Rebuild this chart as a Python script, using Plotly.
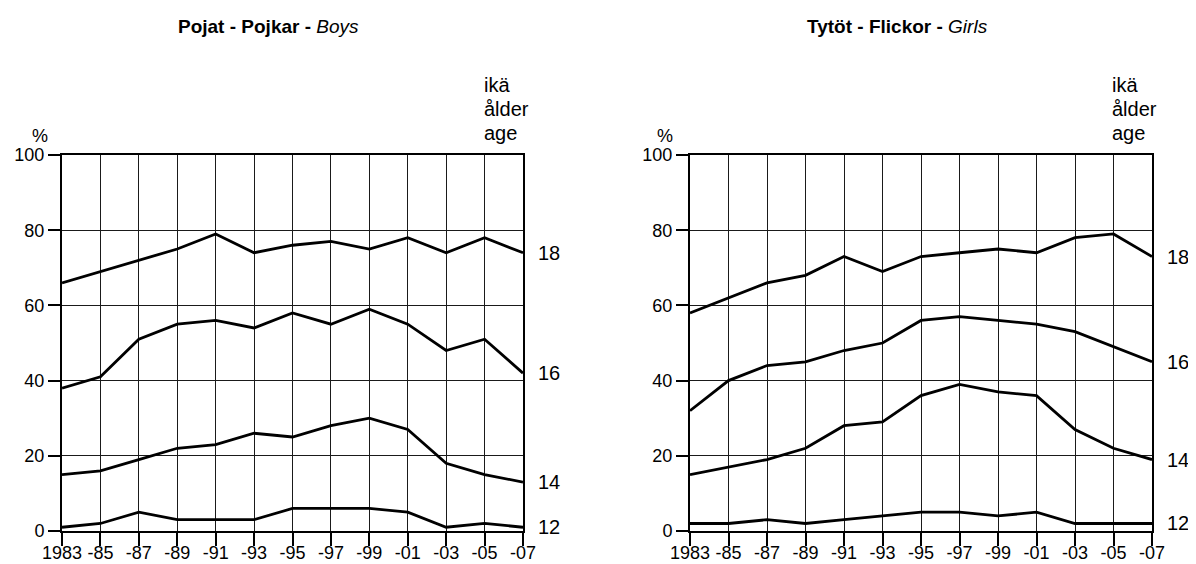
import plotly.graph_objects as go

years = [1983, 1985, 1987, 1989, 1991, 1993, 1995, 1997, 1999, 2001, 2003, 2005, 2007]
year_labels = ["1983", "-85", "-87", "-89", "-91", "-93", "-95", "-97", "-99", "-01", "-03", "-05", "-07"]
ages = ["18", "16", "14", "12"]

boys_18 = [66, 69, 72, 75, 79, 74, 76, 77, 75, 78, 74, 78, 74]
boys_16 = [38, 41, 51, 55, 56, 54, 58, 55, 59, 55, 48, 51, 42]
boys_14 = [15, 16, 19, 22, 23, 26, 25, 28, 30, 27, 18, 15, 13]
boys_12 = [1, 2, 5, 3, 3, 3, 6, 6, 6, 5, 1, 2, 1]

girls_18 = [58, 62, 66, 68, 73, 69, 73, 74, 75, 74, 78, 79, 73]
girls_16 = [32, 40, 44, 45, 48, 50, 56, 57, 56, 55, 53, 49, 45]
girls_14 = [15, 17, 19, 22, 28, 29, 36, 39, 37, 36, 27, 22, 19]
girls_12 = [2, 2, 3, 2, 3, 4, 5, 5, 4, 5, 2, 2, 2]

boys = [boys_18, boys_16, boys_14, boys_12]
girls = [girls_18, girls_16, girls_14, girls_12]

FONT = "Liberation Sans, Arial, Helvetica, sans-serif"
OFF = 8  # page body margin
W, H = 1196 - OFF, 564 - OFF

fig = go.Figure()

for series, xa, ya in [(boys, "x", "y"), (girls, "x2", "y2")]:
    for vals in series:
        fig.add_trace(go.Scatter(x=years, y=vals, mode="lines", xaxis=xa, yaxis=ya,
                                 line=dict(color="black", width=2.8), showlegend=False,
                                 hoverinfo="skip", cliponaxis=False))

def px_x(p):
    return (p - OFF) / W

def px_y(p):
    return 1 - (p - OFF) / H

y_dom = [px_y(531), px_y(155)]
xcommon = dict(range=[1983, 2007], tickvals=years, ticktext=year_labels, ticks="outside",
               ticklen=13, tickwidth=1.5, tickcolor="black", showgrid=True, gridcolor="#1a1a1a",
               gridwidth=1, showline=True, linecolor="black", linewidth=2, mirror=True,
               zeroline=False, tickfont=dict(family=FONT, size=18, color="black"),
               ticklabelstandoff=-9,
               fixedrange=True, automargin=False)
ycommon = dict(range=[0, 100], tickvals=[0, 20, 40, 60, 80, 100], ticks="outside", ticklen=12,
               tickwidth=1.5, tickcolor="black", showgrid=True, gridcolor="#1a1a1a", gridwidth=1,
               showline=True, linecolor="black", linewidth=2, mirror=True, zeroline=False,
               tickfont=dict(family=FONT, size=18, color="black"), fixedrange=True,
               automargin=False)

fig.update_layout(
    width=W, height=H,
    margin=dict(l=0, r=0, t=0, b=0),
    paper_bgcolor="white", plot_bgcolor="white",
    xaxis=dict(domain=[px_x(62), px_x(523)], anchor="y", **xcommon),
    yaxis=dict(domain=y_dom, anchor="x", **ycommon),
    xaxis2=dict(domain=[px_x(690), px_x(1152)], anchor="y2", **xcommon),
    yaxis2=dict(domain=y_dom, anchor="x2", **ycommon),
    font=dict(family=FONT, color="black"),
)

annotations = []
# Titles
annotations.append(dict(text="<b>Pojat - Pojkar - </b><i>Boys</i>", x=px_x(268), y=px_y(26),
                        xref="paper", yref="paper", showarrow=False, xanchor="center",
                        yanchor="middle", font=dict(size=19, family=FONT)))
annotations.append(dict(text="<b>Tytöt - Flickor - </b><i>Girls</i>", x=px_x(897), y=px_y(26),
                        xref="paper", yref="paper", showarrow=False, xanchor="center",
                        yanchor="middle", font=dict(size=19, family=FONT)))
# % labels
for xc in [40, 665]:
    annotations.append(dict(text="%", x=px_x(xc), y=px_y(136), xref="paper", yref="paper",
                            showarrow=False, xanchor="center", yanchor="middle",
                            font=dict(size=18, family=FONT)))
# age header
for xl in [482, 1110]:
    for txt, yc in [("ikä", 85), ("ålder", 109), ("age", 133)]:
        annotations.append(dict(text=txt, x=px_x(xl), y=px_y(yc), xref="paper", yref="paper",
                                showarrow=False, xanchor="left", yanchor="middle",
                                font=dict(size=20, family=FONT)))
# age labels at line ends
for series, xr, yr in [(boys, "x", "y"), (girls, "x2", "y2")]:
    for age, vals in zip(ages, series):
        annotations.append(dict(text=age, x=years[-1], y=vals[-1], xref=xr, yref=yr,
                                showarrow=False, xanchor="left", yanchor="middle", xshift=13,
                                font=dict(size=20, family=FONT)))

fig.update_layout(annotations=annotations)
fig.write_html("out.html")
